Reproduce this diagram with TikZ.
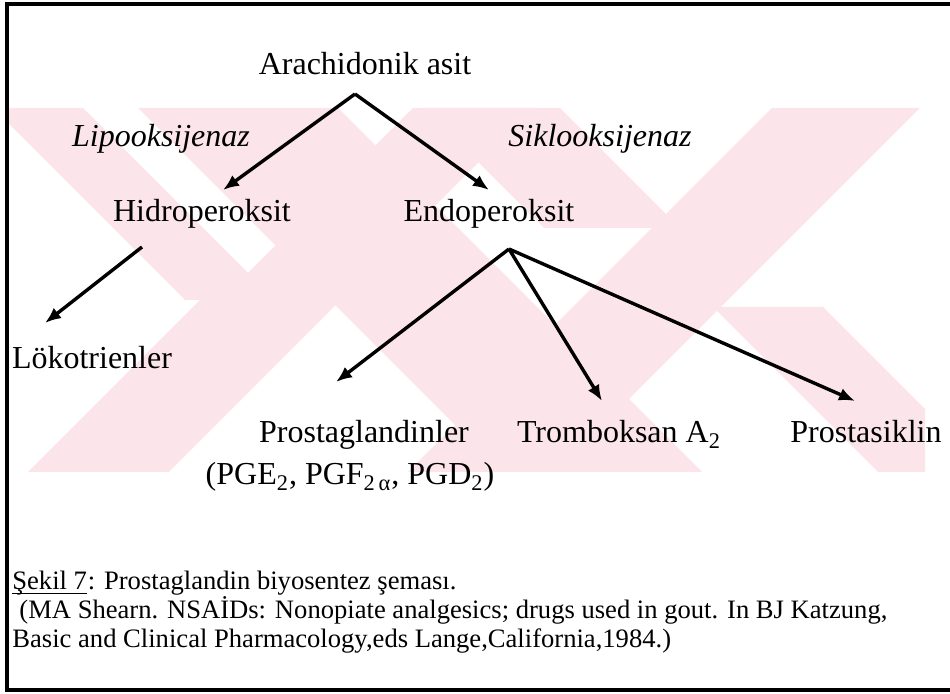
\documentclass[tikz,border=0pt]{standalone}
\usepackage{fontspec}
\setmainfont{Liberation Serif}
\usetikzlibrary{arrows.meta}
\definecolor{wm}{RGB}{252,229,234}
\begin{document}
\begin{tikzpicture}[x=0.5pt,y=-0.5pt,
  lbl/.style={font=\fontsize{16}{19}\selectfont, inner sep=0pt, anchor=base},
  enz/.style={font=\fontsize{16}{19}\selectfont\itshape, inner sep=0pt, anchor=base},
  captxt/.style={font=\fontsize{13.3}{16}\selectfont, inner sep=0pt, anchor=base west},
  arr/.style={line width=1.7pt, -{Latex[length=8pt,width=6.5pt]}},
  framel/.style={line width=2pt}]
\useasboundingbox (0,0) rectangle (950,694);
% watermark
\begin{scope}
\clip (8,108) rectangle (925,472);
% "/" stripes (x+y = const bands)
\fill[wm] (413,108) -- (533,108) -- (169,472) -- (49,472) -- cycle;
\fill[wm] (772,108) -- (920,108) -- (556,472) -- (408,472) -- cycle;
% "\" stripes (x-y = const bands)
\fill[wm] (-7,108) -- (83,108) -- (275,300) -- (185,300) -- cycle;
\fill[wm] (138,108) -- (338,108) -- (702,472) -- (502,472) -- cycle;
\fill[wm] (424,108) -- (560,108) -- (680,228) -- (544,228) -- cycle;
\fill[wm] (713,307) -- (823,307) -- (988,472) -- (878,472) -- cycle;
% lower left leg
\fill[wm] (200,300) -- (300,300) -- (128,472) -- (28,472) -- cycle;
\end{scope}
% frame
\draw[framel] (950,4) -- (7,4) -- (7,690) -- (950,690);
% labels
\node[lbl] (ara) at (365,75) {Arachidonik asit};
\node[enz] (lip) at (161,147) {Lipooksijenaz};
\node[enz] (sik) at (600,147) {Siklooksijenaz};
\node[lbl] (hid) at (202,222) {Hidroperoksit};
\node[lbl] (end) at (489,222) {Endoperoksit};
\node[lbl] (lok) at (92,369) {Lökotrienler};
\node[lbl] (pro) at (364,443) {Prostaglandinler};
\node[lbl] (pgs) at (350,485) {(PGE\textsubscript{2}, PGF\textsubscript{2\,α}, PGD\textsubscript{2})};
\node[lbl] (tro) at (619,443) {Tromboksan A\textsubscript{2}};
\node[lbl] (psk) at (866,443) {Prostasiklin};
% caption
\node[captxt] (sk) at (12,590) {Şekil 7};
\node[captxt] (c1) at (sk.base east) {: Prostaglandin biyosentez şeması.};
\draw[line width=0.6pt] ([yshift=-1.6pt]sk.base west) -- ([yshift=-1.6pt]sk.base east);
\node[captxt] (c2) at (19,619) {(MA Shearn. NSAİDs: Nonopiate analgesics; drugs used in gout. In BJ Katzung,};
\node[captxt] (c3) at (12,648) {Basic and Clinical Pharmacology,eds Lange,California,1984.)};
% connector points
\coordinate (a0) at (355,94);
\coordinate (hidt) at (223,190);
\coordinate (endt) at (489,190);
\coordinate (h0) at (142,247);
\coordinate (lokt) at (45,323);
\coordinate (e0) at (509,249);
\coordinate (prot) at (336,382);
\coordinate (trot) at (602,401);
\coordinate (pskt) at (855,401);
% arrows
\draw[arr] (a0) -- (hidt);
\draw[arr] (a0) -- (endt);
\draw[arr] (h0) -- (lokt);
\draw[arr] (e0) -- (prot);
\draw[arr] (e0) -- (trot);
\draw[arr] (e0) -- (pskt);
\end{tikzpicture}
\end{document}
